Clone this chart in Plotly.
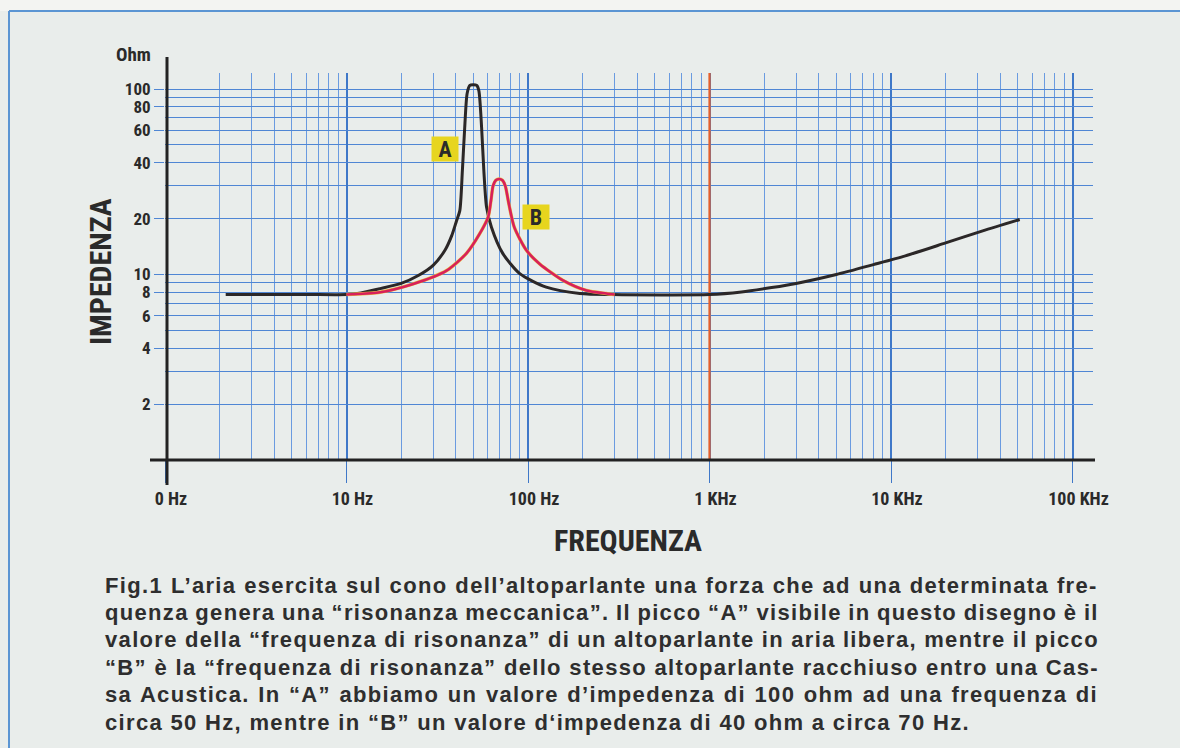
import math
import plotly.graph_objects as go

# ---- data -------------------------------------------------------------
# Curve A: loudspeaker impedance in free air (Hz, ohm)
freq_a = [2.16, 6, 10, 12, 15, 20, 25, 30, 35, 38, 40.4, 42.1, 43.5, 44.8, 46.2,
          47.8, 49.8, 52.2, 53.6, 55.5, 57.1, 59.1, 62.9, 72.6, 90.1, 126, 193,
          293, 1000, 1500, 2200, 3000, 5000, 8000, 12000, 20000, 32000, 51200]
ohm_a = [7.8, 7.8, 7.8, 7.95, 8.35, 8.95, 9.9, 11.2, 13.6, 16.2, 19.5, 22.1, 36.4, 62, 94.6,
         104.5, 105.5, 104.5, 98, 62.2, 36.4, 23.1, 18.0, 13.0, 10.1, 8.55, 7.91,
         7.8, 7.8, 8.05, 8.5, 8.95, 10.0, 11.3, 12.6, 14.8, 17.2, 19.8]

# Curve B: same loudspeaker mounted in a cabinet (Hz, ohm)
freq_b = [10, 15, 23.3, 35.6, 45.8, 54.2, 60.3, 62.5, 64.2, 66.5, 69.3, 72.3,
          75.0, 78.3, 84.0, 98.0, 116, 156, 210, 270, 300]
ohm_b = [7.8, 8.0, 8.9, 10.5, 13.0, 16.6, 20.4, 25.0, 30.0, 32.2, 32.7, 32.2,
         30.0, 24.2, 18.0, 13.5, 11.4, 9.29, 8.2, 7.9, 7.8]

# Axis ticks
x_major = [1, 10, 100, 1000, 10000, 100000]
x_labels = ["0 Hz", "10 Hz", "100 Hz", "1 KHz", "10 KHz", "100 KHz"]
x_minor = [m * d for d in [1, 10, 100, 1000, 10000] for m in range(2, 10)]
y_major = [2, 4, 6, 8, 10, 20, 40, 60, 80, 100]
y_minor = [3, 5, 7, 9, 30, 50, 70, 90]
marker_line_hz = 1000

label_a = ("A", 34.8, 47.2)
label_b = ("B", 110, 20.5)

caption_lines = [
    "Fig.1 L\u2019aria esercita sul cono dell\u2019altoparlante una forza che ad una determinata fre-",
    "quenza genera una \u201crisonanza meccanica\u201d. Il picco \u201cA\u201d visibile in questo disegno \u00e8 il",
    "valore della \u201cfrequenza di risonanza\u201d di un altoparlante in aria libera, mentre il picco",
    "\u201cB\u201d \u00e8 la \u201cfrequenza di risonanza\u201d dello stesso altoparlante racchiuso entro una Cas-",
    "sa Acustica. In \u201cA\u201d abbiamo un valore d\u2019impedenza di 100 ohm ad una frequenza di",
    "circa 50 Hz, mentre in \u201cB\u201d un valore d\u2018impedenza di 40 ohm a circa 70 Hz.",
]

# ---- layout geometry --------------------------------------------------
W, H = 1180, 748
ML, MR, MT, MB = 165, 87, 73, 288
PW, PH = W - ML - MR, H - MT - MB
PX_PER_DEC_X, PX_PER_DEC_Y = 181.5, 185.5


def px_x(px):
    return (px - ML) / PW


def px_y(py):
    return (H - MB - py) / PH


COND = "Roboto, sans-serif"
TEXT = "#2a2a2a"
BG = "#e9edeb"
GRID_MAJOR = "#3f78c8"
GRID_MINOR = "#6a9be0"
GRID_H = "#4f86d4"


def cond(s):
    """Condensed face of the label font."""
    return f"<span style='font-stretch:condensed'>{s}</span>"


# ---- caption justification (Liberation Sans Bold advance widths /1000) --
ADV = {" ": 278, ".": 278, ",": 278, "-": 333, "\u2019": 278, "\u2018": 278,
       "\u201c": 500, "\u201d": 500, "\u00e8": 556}
ADV.update({d: 556 for d in "0123456789"})
ADV.update(dict(zip("ABCDEFGHIJKLMNOPQRSTUVWXYZ",
                    [722, 722, 722, 722, 667, 611, 778, 722, 278, 556, 722, 611, 833,
                     722, 778, 667, 778, 722, 667, 611, 722, 667, 944, 667, 667, 611])))
ADV.update(dict(zip("abcdefghijklmnopqrstuvwxyz",
                    [556, 611, 556, 611, 556, 333, 611, 611, 278, 278, 556, 278, 889,
                     611, 611, 611, 611, 389, 556, 333, 611, 556, 778, 556, 556, 500])))
CAP_SIZE = 22
CAP_LEFT, CAP_RIGHT, CAP_LAST_RIGHT = 103, 1097, 968


def natural_width(s):
    return sum(ADV.get(c, 556) for c in s) * CAP_SIZE / 1000


last = caption_lines[-1]
letter_sp = (CAP_LAST_RIGHT - CAP_LEFT - natural_width(last)) / len(last)

fig = go.Figure()

# 1 kHz reference line
fig.add_trace(go.Scatter(
    x=[marker_line_hz, marker_line_hz], y=[1, 10 ** (PH / PX_PER_DEC_Y)],
    mode="lines", line=dict(color="#e5602c", width=2.2),
    hoverinfo="skip", showlegend=False))

fig.add_trace(go.Scatter(
    x=freq_a, y=ohm_a, mode="lines",
    line=dict(color="#2b2727", width=3, shape="spline", smoothing=0.7),
    showlegend=False, name="A"))
fig.add_trace(go.Scatter(
    x=freq_b, y=ohm_b, mode="lines",
    line=dict(color="#e9b840", width=3.4, shape="spline", smoothing=0.7),
    showlegend=False, hoverinfo="skip"))
fig.add_trace(go.Scatter(
    x=freq_b, y=ohm_b, mode="lines",
    line=dict(color="#d8205a", width=2.6, shape="spline", smoothing=0.7),
    showlegend=False, name="B"))

fig.update_xaxes(
    type="log", range=[0, PW / PX_PER_DEC_X],
    tickmode="array", tickvals=x_major, ticktext=[cond(t) for t in x_labels],
    ticks="outside", ticklen=22, tickwidth=1.4, tickcolor=GRID_MAJOR,
    ticklabelshift=6,
    showgrid=True, gridcolor=GRID_MAJOR, gridwidth=1.7,
    minor=dict(tickmode="array", tickvals=x_minor, showgrid=True,
               gridcolor=GRID_MINOR, gridwidth=1, ticks=""),
    tickfont=dict(family=COND, size=18, color=TEXT, weight="bold"),
    showline=False, zeroline=False, fixedrange=True,
)
fig.update_yaxes(
    type="log", range=[0, PH / PX_PER_DEC_Y],
    tickmode="array", tickvals=y_major, ticktext=[cond(str(v)) for v in y_major],
    ticks="outside", ticklen=10, tickwidth=1.2, tickcolor=GRID_H,
    showgrid=True, gridcolor=GRID_H, gridwidth=1.3,
    minor=dict(tickmode="array", tickvals=y_minor, showgrid=True,
               gridcolor=GRID_H, gridwidth=1.3, ticks=""),
    tickfont=dict(family=COND, size=17, color=TEXT, weight="bold"),
    showline=False, zeroline=False, fixedrange=True,
)

shapes = [
    # faint top strip and blue frame
    dict(type="rect", xref="paper", yref="paper", x0=px_x(0), x1=px_x(W),
         y0=px_y(11), y1=px_y(0), fillcolor="#f3f4f2", line=dict(width=0), layer="below"),
    dict(type="line", xref="paper", yref="paper", x0=px_x(9), x1=px_x(W),
         y0=px_y(11), y1=px_y(11), line=dict(color="#5b95d3", width=2)),
    dict(type="line", xref="paper", yref="paper", x0=px_x(9), x1=px_x(9),
         y0=px_y(11), y1=px_y(H), line=dict(color="#5b95d3", width=2)),
    # black axis lines
    dict(type="line", xref="paper", yref="paper", x0=px_x(167), x1=px_x(167),
         y0=px_y(485), y1=px_y(57), line=dict(color="#222222", width=3)),
    dict(type="line", xref="paper", yref="paper", x0=px_x(150), x1=px_x(1095),
         y0=px_y(460), y1=px_y(460), line=dict(color="#222222", width=3)),
]

annotations = [
    dict(text=cond("Ohm"), xref="paper", yref="paper", x=px_x(153), y=px_y(55),
         xanchor="right", yanchor="middle", showarrow=False,
         font=dict(family=COND, size=19, color=TEXT, weight="bold")),
    dict(text=cond("IMPEDENZA"), xref="paper", yref="paper", x=px_x(100), y=px_y(272),
         xanchor="center", yanchor="middle", textangle=-90, showarrow=False,
         font=dict(family=COND, size=30, color=TEXT, weight="bold")),
    dict(text=cond("FREQUENZA"), xref="paper", yref="paper", x=px_x(628), y=px_y(540),
         xanchor="center", yanchor="middle", showarrow=False,
         font=dict(family=COND, size=30, color=TEXT, weight="bold")),
]
for name, fx, oy in (label_a, label_b):
    annotations.append(dict(
        text=cond(name), x=math.log10(fx), y=math.log10(oy), xref="x", yref="y",
        showarrow=False, bgcolor="#e7d51e", width=24, height=22, borderpad=1,
        font=dict(family=COND, size=22, color="#2b2b2b", weight="bold")))

for i, line in enumerate(caption_lines):
    n_spaces = line.count(" ")
    style = f"letter-spacing:{letter_sp:.2f}px"
    if i < len(caption_lines) - 1:
        spare = (CAP_RIGHT - CAP_LEFT) - natural_width(line) - letter_sp * len(line)
        style += f";word-spacing:{spare / n_spaces:.2f}px"
    annotations.append(dict(
        text=f"<span style='{style}'>{line}</span>", xref="paper", yref="paper",
        x=px_x(CAP_LEFT), y=px_y(585 + i * 27.4),
        xanchor="left", yanchor="middle", showarrow=False,
        font=dict(family="Liberation Sans, Arial, sans-serif", size=CAP_SIZE,
                  color="#2e2e2e", weight="bold")))

fig.update_layout(
    width=W, height=H,
    margin=dict(l=ML, r=MR, t=MT, b=MB, pad=0),
    paper_bgcolor=BG, plot_bgcolor=BG,
    shapes=shapes, annotations=annotations,
    showlegend=False,
)

fig.write_html("out.html")
